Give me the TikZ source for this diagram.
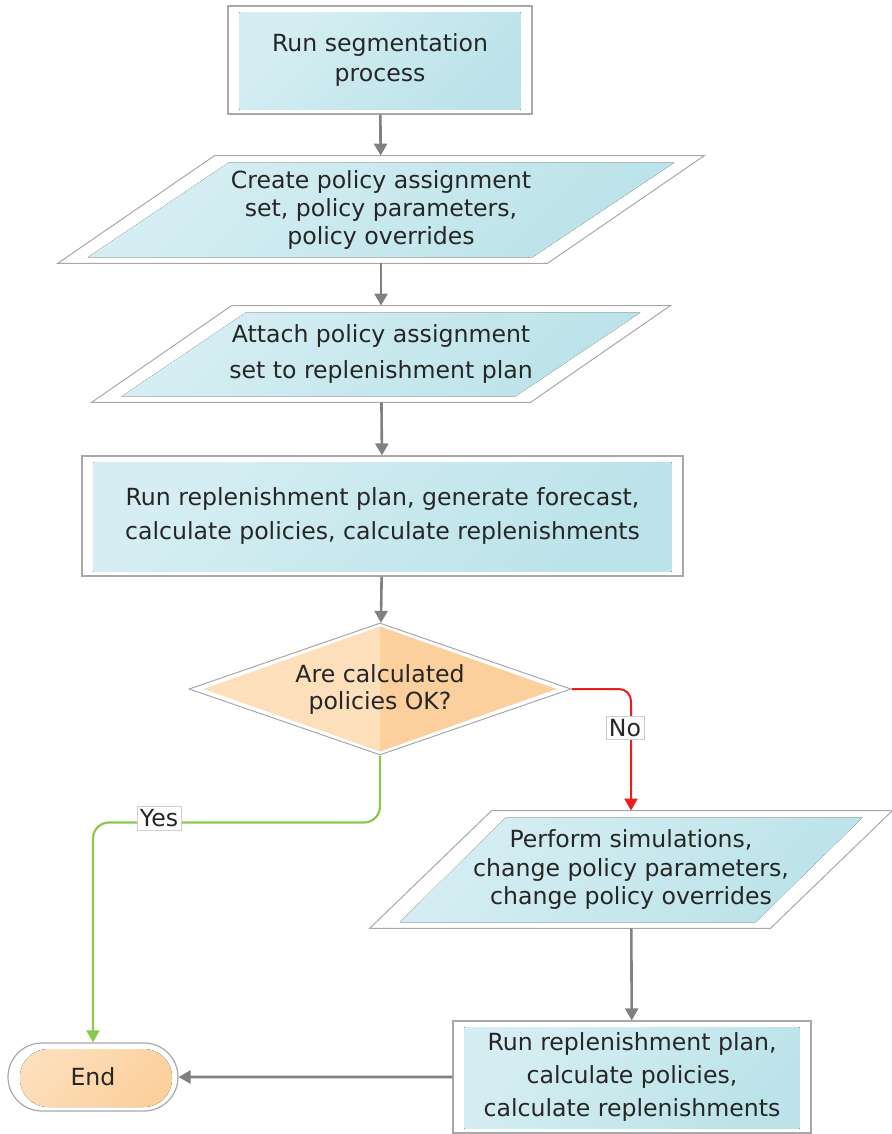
\documentclass[tikz,border=0pt]{standalone}
\usepackage{fontspec}
\setmainfont{DejaVu Sans}
\usetikzlibrary{calc,arrows.meta,backgrounds,shapes.geometric,shapes.misc}

\definecolor{stageline}{HTML}{A8A8A8}
\definecolor{labelline}{HTML}{CFCFCF}
\definecolor{cyanlight}{HTML}{D6EEF3}
\definecolor{cyandark}{HTML}{BBE3E9}
\definecolor{orangelight}{HTML}{FDDFBC}
\definecolor{orangedark}{HTML}{FCD09C}
\definecolor{flowgray}{HTML}{808080}
\definecolor{flowred}{HTML}{EE1C1C}
\definecolor{flowgreen}{HTML}{8CC84B}
\definecolor{textgray}{HTML}{262626}

\tikzset{%
    every stage/.style={
        text=textgray,
        font=\fontsize{11.8}{14.5}\selectfont,
        align=center,
        inner sep=0pt
    },
    text leading/.style={
        font=\fontsize{11.8}{#1}\selectfont
    },
    stage box/.style={
        draw=stageline,
        line width=0.6pt
    },
    stage data/.style={
        draw=none
    },
    stage decision/.style={
        diamond,
        aspect=2.9,
        draw=stageline,
        line width=0.5pt
    },
    stage end/.style={
        rounded rectangle,
        draw=stageline,
        line width=0.6pt
    },
    data line/.style={
        draw=stageline,
        line width=0.5pt
    },
    cyan shade/.style={
        top color=cyanlight,
        bottom color=cyandark,
        shading angle=45
    },
    orange shade/.style={
        top color=orangelight,
        bottom color=orangedark,
        shading angle=45
    },
    flow/.style={
        draw=flowgray,
        line width=1.3pt
    },
    no path/.style={
        draw=flowred,
        line width=1pt,
        rounded corners=6pt
    },
    yes path/.style={
        draw=flowgreen,
        line width=1.1pt,
        rounded corners=8pt
    },
    answer/.style={
        sharp corners,
        fill=white,
        draw=labelline,
        line width=0.4pt,
        inner sep=1.5pt,
        text=textgray,
        font=\fontsize{11.8}{14}\selectfont
    },
}

% parallelogram round a text node: node, half slant (px)
\newcommand{\dataoutline}[2]{%
    \draw [data line] ($(#1.north west)+(#2,0)$) -- ($(#1.north east)+(#2,0)$)
        -- ($(#1.south east)+(-#2,0)$) -- ($(#1.south west)+(-#2,0)$) -- cycle;
    \fill [cyan shade] ($(#1.north west)+(#2+14,7)$) -- ($(#1.north east)+(#2-30,7)$)
        -- ($(#1.south east)+(-#2-15,-6)$) -- ($(#1.south west)+(-#2+30,-6)$) -- cycle;
}
\newcommand{\boxfill}[1]{%
    \fill [cyan shade] ($(#1.north west)+(12,7)$) rectangle ($(#1.south east)+(-12,-5)$);
}

\begin{document}
\begin{tikzpicture}[x=0.5pt, y=-0.5pt, >={Triangle[length=6pt,width=6.5pt]}]

        \useasboundingbox (0,0) rectangle (891,1134);

        \node [every stage, stage box, text leading=15pt, minimum width=152pt, minimum height=54pt] (segment) at (380,60) {Run segmentation\\process};

        \node [every stage, stage data, text leading=14pt, minimum width=244.5pt, minimum height=53.5pt] (create) at (381,209.5) {Create policy assignment\\set, policy parameters,\\policy overrides};

        \node [every stage, stage data, text leading=18pt, minimum width=219pt, minimum height=48pt] (attach) at (381,354) {Attach policy assignment\\set to replenishment plan};

        \node [every stage, stage box, text leading=17pt, minimum width=300.5pt, minimum height=60pt] (runplan) at (382.5,516) {Run replenishment plan, generate forecast,\\calculate policies, calculate replenishments};

        \node [every stage, stage decision, text leading=13.5pt, minimum width=191pt, minimum height=66pt] (decide) at (380,689) {Are calculated\\policies OK?};

        \node [every stage, stage data, text leading=14.25pt, minimum width=200pt, minimum height=58.5pt] (simulate) at (631,869.5) {Perform simulations,\\change policy parameters,\\change policy overrides};

        \node [every stage, stage box, text leading=16.5pt, minimum width=179pt, minimum height=56pt] (rerun) at (632,1077) {Run replenishment plan,\\calculate policies,\\calculate replenishments};

        \node [every stage, stage end, minimum width=85pt, minimum height=34pt] (end) at (93,1077) {End};

        % connectors
        \draw [flow, ->] (segment) -- (create);
        \draw [flow, ->] (create) -- (attach);
        \draw [flow, ->] (attach) -- (runplan);
        \draw [flow, ->] (runplan) -- (decide);
        \draw [no path, ->] (decide.east) -| (simulate.north) node [answer, pos=0.66, xshift=-3pt] {No};
        \draw [yes path, ->] (decide.south) -- ++(0,67) -| (end.north) node [answer, pos=0.385, yshift=2pt] {Yes};
        \draw [flow, ->] (simulate) -- (rerun);
        \draw [flow, ->] (rerun) -- (end);

        \begin{scope}[on background layer]
            \fill [white] (0,0) rectangle (891,1134);
            % parallelograms
            \dataoutline{create}{78.5}
            \dataoutline{attach}{70}
            \dataoutline{simulate}{61}
            \boxfill{segment}
            \boxfill{runplan}
            \boxfill{rerun}
            \fill [orangelight] ($(decide.west)+(15,0)$) -- ($(decide.north)+(0,4)$) -- ($(decide.south)+(0,-4)$) -- cycle;
            \fill [orangedark] ($(decide.east)+(-15,0)$) -- ($(decide.north)+(0,4)$) -- ($(decide.south)+(0,-4)$) -- cycle;
            \fill [orange shade, rounded corners=14pt] ($(end.center)+(-73,-28)$) rectangle ($(end.center)+(79,30)$);
        \end{scope}

    \end{tikzpicture}
\end{document}
